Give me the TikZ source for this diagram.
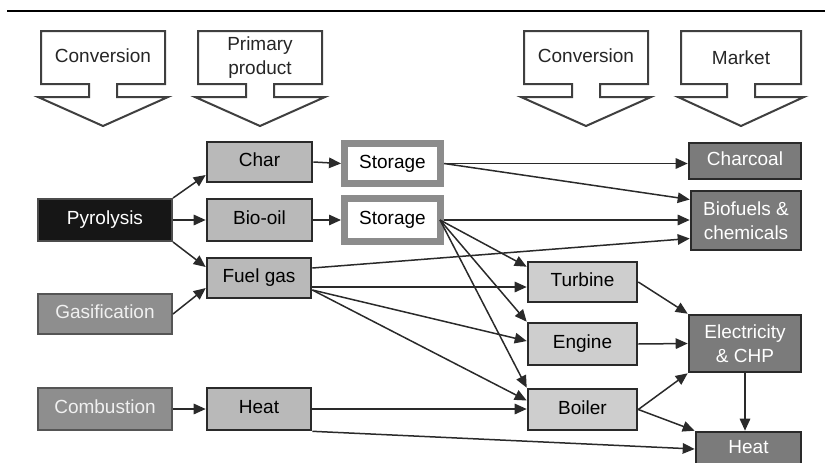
\documentclass[tikz,border=0pt]{standalone}
\usepackage{fontspec}
\setmainfont{Liberation Sans}
\usetikzlibrary{arrows.meta,calc}

\definecolor{inkdark}{HTML}{2A2A2A}
\definecolor{blackbox}{HTML}{161616}
\definecolor{srcgray}{HTML}{8E8E8E}
\definecolor{srcedge}{HTML}{555555}
\definecolor{prodgray}{HTML}{B9B9B9}
\definecolor{convgray}{HTML}{CECECE}
\definecolor{mktgray}{HTML}{7B7B7B}
\definecolor{storeedge}{HTML}{8C8C8C}

% down-pointing callout used for the column headings
\newcommand\hdrshape[2]{%
  \pgfmathsetmacro\hc{(#1+#2)/2}%
  \draw[hdr] (#1,31) -- (#2,31) -- (#2,84) -- (\hc+14,84) -- (\hc+14,97)
    -- (#2+3,97) -- (\hc,126) -- (#1-3,97) -- (\hc-14,97) -- (\hc-14,84)
    -- (#1,84) -- cycle;}

\begin{document}
\begin{tikzpicture}[x=1pt,y=-1pt,
  font=\fontsize{19}{24}\selectfont,
  hdr/.style={draw=inkdark!90, line width=2pt, fill=white, line join=miter},
  hdrtext/.style={inner sep=0pt, align=center, text=black!85},
  box/.style={rectangle, inner sep=0pt, line width=2.6pt, text height=13.6pt, text depth=4pt},
  mbox/.style={rectangle, inner sep=0pt, line width=2.6pt, align=center},
  srcbox/.style={box, fill=srcgray, draw=srcedge, text=white!94!black, line width=2pt},
  pyrobox/.style={box, fill=blackbox, draw=black!70, text=white, line width=2pt},
  prodbox/.style={box, fill=prodgray, draw=inkdark},
  storebox/.style={box, fill=white, draw=storeedge, line width=7pt},
  convbox/.style={box, fill=convgray, draw=inkdark},
  mktbox/.style={box, fill=mktgray, draw=inkdark, text=white},
  mktmulti/.style={mbox, fill=mktgray, draw=inkdark, text=white},
  conn/.style={draw=inkdark, line width=1.5pt, -{Triangle[length=12pt,width=10.5pt]}}
]
\clip (0,0) rectangle (825,463);

% heading rule
\draw[line width=2.5pt, black] (7,11) -- (825,11);

% column headings
\hdrshape{41}{165}
\hdrshape{198}{322}
\hdrshape{524}{648}
\hdrshape{681}{801}
\node[hdrtext] (h1) at (103,56) {Conversion};
\node[hdrtext] (h2) at (260,57.5) {Primary\\product};
\node[hdrtext] (h3) at (586,56) {Conversion};
\node[hdrtext] (h4) at (741,58) {Market};

% conversion routes
\node[pyrobox, minimum width=134pt, minimum height=42pt] (pyro) at (105,220) {Pyrolysis};
\node[srcbox, minimum width=134pt, minimum height=40pt] (gas) at (105,314) {Gasification};
\node[srcbox, minimum width=134pt, minimum height=42pt] (comb) at (105,409) {Combustion};

% primary products
\node[prodbox, minimum width=105pt, minimum height=40pt] (char) at (259.5,162) {Char};
\node[prodbox, minimum width=105pt, minimum height=42pt] (bio) at (259.5,220) {Bio-oil};
\node[prodbox, minimum width=104pt, minimum height=40pt] (fuel) at (259,278) {Fuel gas};
\node[prodbox, minimum width=104pt, minimum height=42pt] (heatp) at (259,409) {Heat};

% storage
\node[storebox, minimum width=96pt, minimum height=40pt] (st1) at (392.5,163.5) {Storage};
\node[storebox, minimum width=96pt, minimum height=43pt] (st2) at (392.5,220) {Storage};

% conversion units
\node[convbox, minimum width=109pt, minimum height=40pt] (turb) at (582.5,282) {Turbine};
\node[convbox, minimum width=109pt, minimum height=42pt] (eng) at (582.5,344) {Engine};
\node[convbox, minimum width=109pt, minimum height=41pt] (boil) at (582.5,409.5) {Boiler};

% markets
\node[mktbox, minimum width=112pt, minimum height=36pt] (charcoal) at (745,161) {Charcoal};
\node[mktmulti, minimum width=110pt, minimum height=59pt] (biof) at (746,220.5) {Biofuels \&\\chemicals};
\node[mktmulti, minimum width=112pt, minimum height=57pt] (elec) at (745,343.5) {Electricity\\\& CHP};
\node[mktbox, minimum width=105pt, minimum height=34pt] (mheat) at (748.5,449) {Heat};

% flows out of the conversion routes
\draw[conn] (pyro.north east) -- ([yshift=-13pt]char.west);
\draw[conn] (pyro.east) -- (bio.west);
\draw[conn] (pyro.south east) -- ([yshift=11pt]fuel.west);
\draw[conn] (gas.east) -- ([yshift=-10pt]fuel.west);
\draw[conn] (comb.east) -- (heatp.west);

% products into storage
\draw[conn] (char.east) -- (st1.west);
\draw[conn] (bio.east) -- (st2.west);

% storage to markets and units
\draw[conn] (st1.east) -- (st1.east -| charcoal.west);
\draw[conn] (st1.east) -- ([yshift=21pt]biof.west);
\draw[conn] (st2.east) -- (st2.east -| biof.west);
\draw[conn] ([xshift=-4pt]st2.east) -- ([yshift=-6pt]turb.north west);
\draw[conn] ([xshift=-4pt]st2.east) -- (eng.north west);
\draw[conn] ([xshift=-4pt]st2.east) -- (boil.north west);

% fuel gas
\draw[conn] ([yshift=10pt]fuel.east) -- ([yshift=-18pt]biof.west);
\draw[conn] ([yshift=-9pt]fuel.east) -- ([yshift=-9pt]fuel.east -| turb.west);
\draw[conn] ([yshift=-12pt]fuel.east) -- ([yshift=3pt]eng.west);
\draw[conn] ([yshift=-12pt]fuel.east) -- ([yshift=9pt]boil.west);

% heat
\draw[conn] (heatp.east) -- (heatp.east -| boil.west);
\draw[conn] (heatp.south east) -- (mheat.west);

% units to markets
\draw[conn] (turb.east) -- (elec.north west);
\draw[conn] (eng.east) -- (elec.west);
\draw[conn] (boil.east) -- (elec.south west);
\draw[conn] (boil.east) -- (mheat.north west);
\draw[conn] (elec.south) -- (elec.south |- mheat.north);
\end{tikzpicture}
\end{document}
